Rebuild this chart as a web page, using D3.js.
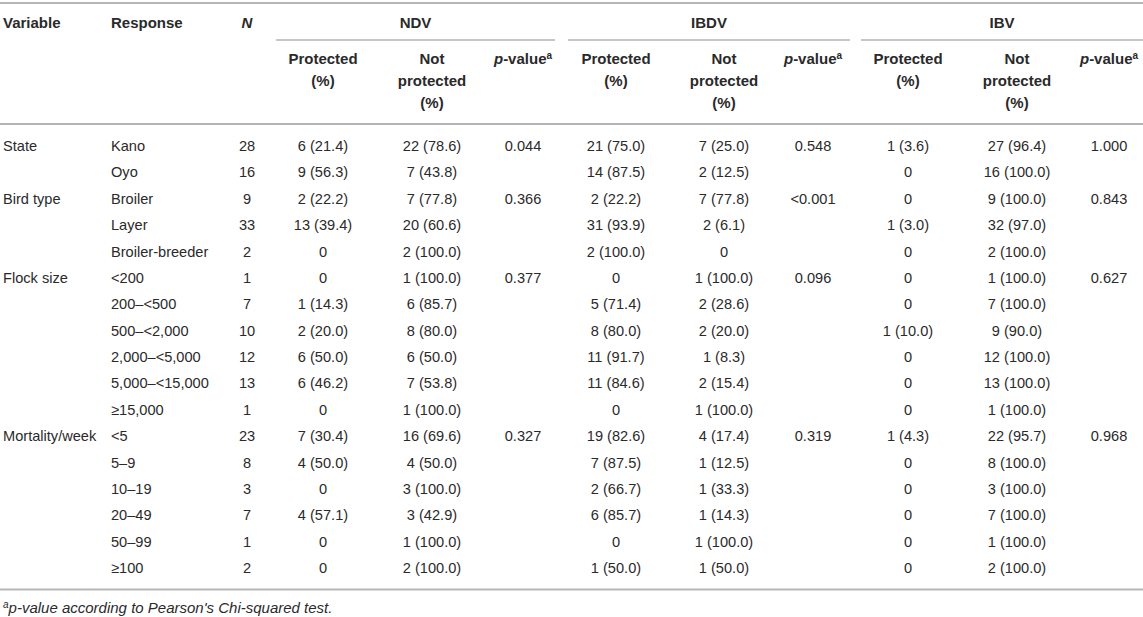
<!DOCTYPE html>
<html><head><meta charset="utf-8">
<script src="https://cdn.jsdelivr.net/npm/d3@7"></script>
<style>
html,body{margin:0;padding:0;background:#fff;}
svg{display:block;font-family:"Liberation Sans",Arial,Helvetica,sans-serif;}
</style></head>
<body><svg id="c" width="1143" height="617"></svg>
<script>
const responses = ["Kano","Oyo","Broiler","Layer","Broiler-breeder","<200","200–<500","500–<2,000","2,000–<5,000","5,000–<15,000","≥15,000","<5","5–9","10–19","20–49","50–99","≥100"];
const variables = ["State","","Bird type","","","Flock size","","","","","","Mortality/week","","","","",""];
const nValues = [28,16,9,33,2,1,7,10,12,13,1,23,8,3,7,1,2];
const ndvProtected = ["6 (21.4)","9 (56.3)","2 (22.2)","13 (39.4)","0","0","1 (14.3)","2 (20.0)","6 (50.0)","6 (46.2)","0","7 (30.4)","4 (50.0)","0","4 (57.1)","0","0"];
const ndvNotProtected = ["22 (78.6)","7 (43.8)","7 (77.8)","20 (60.6)","2 (100.0)","1 (100.0)","6 (85.7)","8 (80.0)","6 (50.0)","7 (53.8)","1 (100.0)","16 (69.6)","4 (50.0)","3 (100.0)","3 (42.9)","1 (100.0)","2 (100.0)"];
const ndvP = ["0.044","","0.366","","","0.377","","","","","","0.327","","","","",""];
const ibdvProtected = ["21 (75.0)","14 (87.5)","2 (22.2)","31 (93.9)","2 (100.0)","0","5 (71.4)","8 (80.0)","11 (91.7)","11 (84.6)","0","19 (82.6)","7 (87.5)","2 (66.7)","6 (85.7)","0","1 (50.0)"];
const ibdvNotProtected = ["7 (25.0)","2 (12.5)","7 (77.8)","2 (6.1)","0","1 (100.0)","2 (28.6)","2 (20.0)","1 (8.3)","2 (15.4)","1 (100.0)","4 (17.4)","1 (12.5)","1 (33.3)","1 (14.3)","1 (100.0)","1 (50.0)"];
const ibdvP = ["0.548","","<0.001","","","0.096","","","","","","0.319","","","","",""];
const ibvProtected = ["1 (3.6)","0","0","1 (3.0)","0","0","0","1 (10.0)","0","0","0","1 (4.3)","0","0","0","0","0"];
const ibvNotProtected = ["27 (96.4)","16 (100.0)","9 (100.0)","32 (97.0)","2 (100.0)","1 (100.0)","7 (100.0)","9 (90.0)","12 (100.0)","13 (100.0)","1 (100.0)","22 (95.7)","8 (100.0)","3 (100.0)","7 (100.0)","1 (100.0)","2 (100.0)"];
const ibvP = ["1.000","","0.843","","","0.627","","","","","","0.968","","","","",""];
const groups = ["NDV","IBDV","IBV"];
const footnote = "p-value according to Pearson's Chi-squared test.";

const svg = d3.select("#c");
const W = 1143;
const ink = "#2a2a2a", rule = "#b5b5b5";
const fs = 14.6;

const rowY = d3.scalePoint().domain(d3.range(responses.length)).range([146, 568]);
const colKeys = ["N","ndvP","ndvNP","ndvPv","ibdvP","ibdvNP","ibdvPv","ibvP","ibvNP","ibvPv"];
const colX = d3.scaleOrdinal().domain(colKeys).range([247,323,432,523,616,724,813,908,1017,1109]);
const groupSpan = d3.scaleOrdinal().domain(groups).range([[276,555],[568,850],[861,1143]]);

// rules
const hl = (x1,x2,y,w) => svg.append("line").attr("x1",x1).attr("x2",x2).attr("y1",y).attr("y2",y)
  .attr("stroke",rule).attr("stroke-width",w);
hl(0,W,3,2);
hl(0,W,124,2);
hl(0,W,589.5,2);
groups.forEach(g => { const s = groupSpan(g); hl(s[0],s[1],40,1.5); });

const txt = (x,y,anchor) => svg.append("text").attr("x",x).attr("y",y).attr("dy","0.35em")
  .attr("text-anchor",anchor).attr("fill",ink).attr("font-size",fs);

// header row 1
txt(3,23,"start").attr("font-weight","bold").attr("font-size",15).text("Variable");
txt(111,23,"start").attr("font-weight","bold").attr("font-size",15).text("Response");
txt(colX("N"),23,"middle").attr("font-weight","bold").attr("font-style","italic").attr("font-size",15).text("N");
groups.forEach(g => { const s = groupSpan(g); txt((s[0]+s[1])/2,23,"middle").attr("font-weight","bold").attr("font-size",15).text(g); });

// header row 2
const subHead = (key, lines) => lines.forEach((l,i) => txt(colX(key),59+i*22,"middle").attr("font-weight","bold").attr("font-size",15).text(l));
const pHead = key => {
  const t = txt(colX(key),59,"middle").attr("font-weight","bold").attr("font-size",15);
  t.append("tspan").attr("font-style","italic").text("p");
  t.append("tspan").text("-value");
  t.append("tspan").attr("font-size",10).attr("dy","-0.5em").text("a");
};
[["ndvP","ndvNP","ndvPv"],["ibdvP","ibdvNP","ibdvPv"],["ibvP","ibvNP","ibvPv"]].forEach(k => {
  subHead(k[0],["Protected","(%)"]);
  subHead(k[1],["Not","protected","(%)"]);
  pHead(k[2]);
});

// body
const cols = [["N",nValues],["ndvP",ndvProtected],["ndvNP",ndvNotProtected],["ndvPv",ndvP],
  ["ibdvP",ibdvProtected],["ibdvNP",ibdvNotProtected],["ibdvPv",ibdvP],
  ["ibvP",ibvProtected],["ibvNP",ibvNotProtected],["ibvPv",ibvP]];
responses.forEach((r,i) => {
  if (variables[i]) txt(3,rowY(i),"start").text(variables[i]);
  txt(111,rowY(i),"start").text(r);
  cols.forEach(([k,arr]) => { if (arr[i] !== "") txt(colX(k),rowY(i),"middle").text(arr[i]); });
});

// footnote
const f = svg.append("text").attr("x",3).attr("y",613).attr("fill",ink)
  .attr("font-style","italic").attr("font-size",15);
f.append("tspan").attr("font-size",10).attr("dy",-5).text("a");
f.append("tspan").attr("dy",5).text(footnote);
</script></body></html>
